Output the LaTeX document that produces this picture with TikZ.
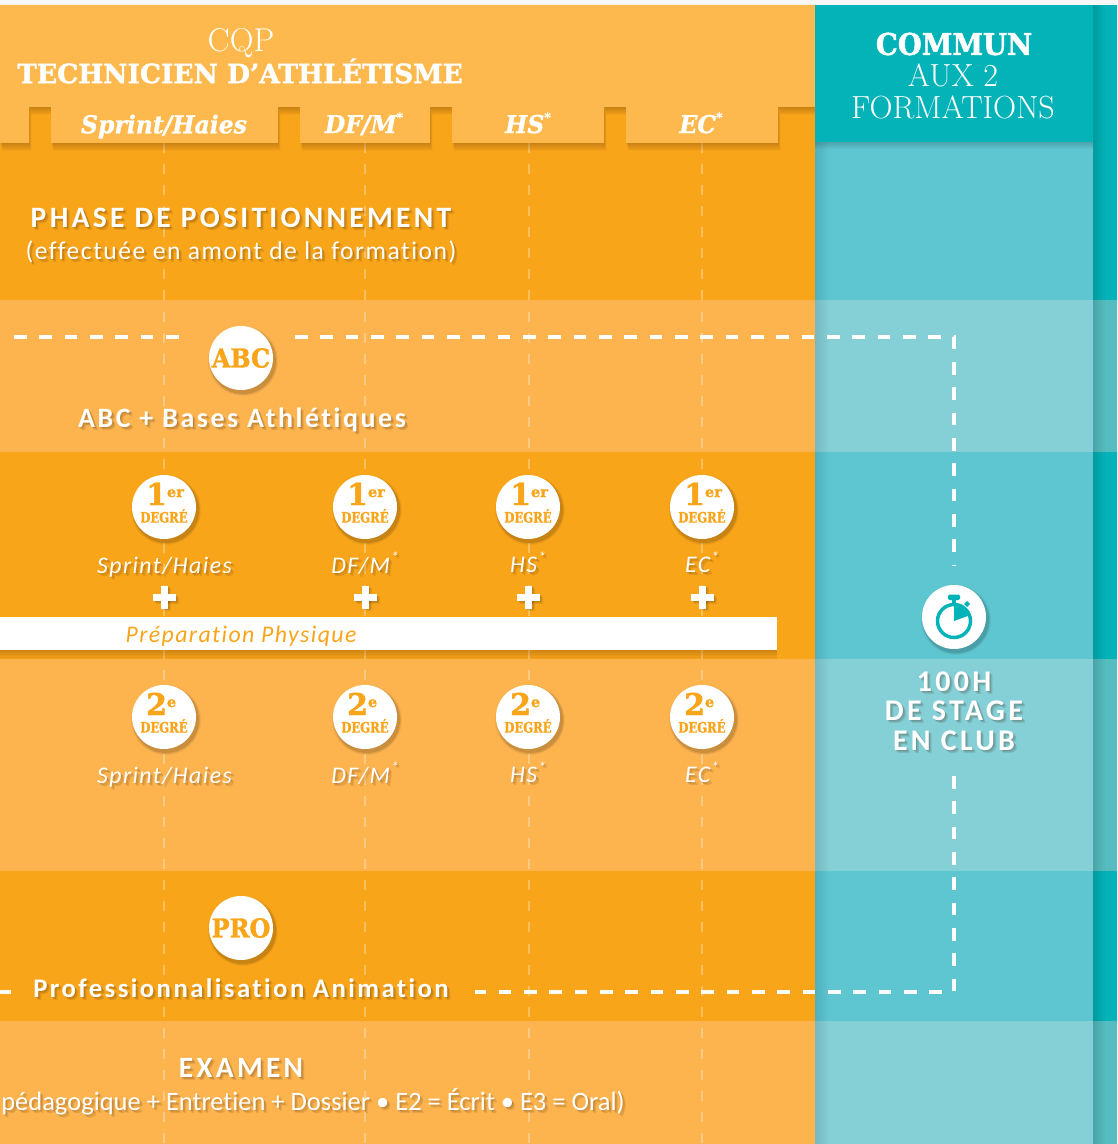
\documentclass[tikz,border=0pt]{standalone}
\usepackage{fontspec}
\usetikzlibrary{calc}
\setmainfont{Carlito}
\newfontfamily\slab{DejaVu Serif Bold}[FakeBold=1.5]
\newfontfamily\slabc{DejaVu Serif Bold}[FakeStretch=.92,FakeBold=1.5]
\newfontfamily\slabx{DejaVu Serif Bold}[FakeStretch=.8,FakeBold=1]
\newfontfamily\slabi{DejaVu Serif Bold Italic}[FakeStretch=.96,FakeBold=1]
\newfontfamily\thinf{Latin Modern Roman}
\newfontfamily\gill{Carlito}[LetterSpace=6,Ligatures=NoCommon]
\newfontfamily\gillb{Carlito}[LetterSpace=9,Ligatures=NoCommon]
\newfontfamily\gillw{Carlito}[LetterSpace=11,Ligatures=NoCommon]
\newfontfamily\gilln{Carlito}[Ligatures=NoCommon]
\definecolor{odark}{HTML}{F9A51A}
\definecolor{olight}{HTML}{FDB44F}
\definecolor{ohead}{HTML}{FDB94D}
\definecolor{tstrong}{HTML}{04B3B7}
\definecolor{tdark}{HTML}{5EC6D1}
\definecolor{tlight}{HTML}{85CFD6}
\definecolor{tside}{HTML}{55BDBF}
\newcommand{\szpx}[1]{\fontsize{\dimexpr #1pt*3/4\relax}{\dimexpr #1pt*9/10\relax}\selectfont}
\newcommand{\st}{\kern.8pt\smash{\raisebox{.45em}{\szpx{15}*}}\vphantom{Sp}}
\tikzset{
  x=0.75pt,y=-0.75pt,
  lab/.style={inner sep=0,outer sep=0,text=white,align=center},
  labshadow/.style={inner sep=0,outer sep=0,text=black!80!orange,text opacity=.11,align=center},
  badge/.style={circle,fill=white,inner sep=0,minimum size=48pt},
  guide/.style={white,opacity=.3,line width=1.9pt,dash pattern=on 7.5pt off 8.3pt},
  route/.style={white,line width=2.5pt,dash pattern=on 9.4pt off 9.6pt},
  badgetxt/.style={inner sep=0,outer sep=0,text=odark},
}
\newcommand{\shlabel}[4]{%
  \foreach \d in {1,2,3}{\node[labshadow,#3,shift={(\d,\d)}] (#1s\d) at (#2) {#4};}
  \node[lab,#3] (#1) at (#2) {#4};}
\newcommand{\shcircle}[2]{%
  \foreach \d/\o in {6/.04,4/.07,2/.10}{\fill[black,opacity=\o] ($(#2)+(2,3)$) circle (32+\d/2);}
  \node[badge] (#1) at (#2) {};}
\newcommand{\degreeBadge}[5]{% name x num sup y
  \shcircle{#1}{#2,#5}
  \node[badgetxt,anchor=base east] (#1n) at (#2+3,#5-2) {\slab\szpx{30}#3};
  \node[badgetxt,anchor=base west] (#1e) at (#2+3,#5-10) {\slab\szpx{14.5}#4};
  \node[badgetxt,anchor=center] (#1d) at (#2,#5+9) {\slabx\szpx{14.5}DEGRÉ};}
\newcommand{\plussign}[1]{%
  \foreach \d in {1,2,3}{\fill[black,opacity=.08] ($(#1,594)+(-11.5+\d,\d)$) rectangle ++(23,7); \fill[black,opacity=.08] ($(#1,585)+(-3.5+\d,\d)$) rectangle ++(7,23);}
  \fill[white] (#1-11.5,594) rectangle (#1+11.5,601);
  \fill[white] (#1-3.5,585.5) rectangle (#1+3.5,608.5);}
\begin{document}
\begin{tikzpicture}
\useasboundingbox (0,0) rectangle (1117,1144);
\clip (0,0) rectangle (1117,1144);
\fill[white!97!black] (0,0) rectangle (1117,5);
% rows
\fill[odark] (0,5) rectangle (815,300);
\fill[olight] (0,300) rectangle (815,452);
\fill[odark] (0,452) rectangle (815,659);
\fill[olight] (0,659) rectangle (815,871);
\fill[odark] (0,871) rectangle (815,1021);
\fill[olight] (0,1021) rectangle (815,1144);
\fill[tdark] (815,142) rectangle (1093,300);
\fill[tlight] (815,300) rectangle (1093,452);
\fill[tdark] (815,452) rectangle (1093,659);
\fill[tlight] (815,659) rectangle (1093,871);
\fill[tdark] (815,871) rectangle (1093,1021);
\fill[tlight] (815,1021) rectangle (1093,1144);
\fill[tstrong] (1093,5) rectangle (1117,300);
\fill[tside] (1093,300) rectangle (1117,452);
\fill[tstrong] (1093,452) rectangle (1117,659);
\fill[tside] (1093,659) rectangle (1117,871);
\fill[tstrong] (1093,871) rectangle (1117,1021);
\fill[tside] (1093,1021) rectangle (1117,1144);
% side shadows
\foreach \d in {2,4,...,14}{\fill[black,opacity=.012] (815,142) rectangle (815+\d,1144);}
\foreach \d in {2,4,...,12}{\fill[black,opacity=.018] (1093,5) rectangle (1093+\d,1144);}
% guide lines
\foreach \n/\gx in {a/164,b/365,c/529,d/702}{
  \coordinate (g\n t) at (\gx,143);
  \coordinate (g\n b) at (\gx,1144);
  \draw[guide] (g\n t) -- (g\n b);}
% header shape
\def\hdr{(0,5) -- (815,5) -- (815,107) -- (778,107) -- (778,143) -- (626,143) -- (626,107) -- (604,107) -- (604,143) -- (452,143) -- (452,107) -- (430,107) -- (430,143) -- (300,143) -- (300,107) -- (278,107) -- (278,143) -- (51,143) -- (51,107) -- (29,107) -- (29,143) -- (0,143) -- cycle}
\begin{scope}
\clip (0,5) rectangle (815,160);
\foreach \d in {1,...,8}{\fill[black!70!orange,opacity=.035,shift={(\d*.3,\d)}] \hdr;}
\end{scope}
\fill[ohead] \hdr;
\foreach \d in {1,...,7}{\fill[black,opacity=.025] (815,142) rectangle (1093,142+\d);}
\fill[tstrong] (815,5) rectangle (1093,142);
% header text
\node[lab] (cqp) at (241,43) {\thinf\szpx{33}CQP};
\node[lab] (tech) at (240,71) {\slab\szpx{26.5}TECHNICIEN D’ATHLÉTISME};
\newcommand{\tst}{\smash{\raisebox{.45em}{\szpx{13}*}}\vphantom{Sp}}
\node[lab] (t1) at (164,126.5) {\slabi\szpx{24.5}Sprint/Haies};
\node[lab] (t2) at (364,126.5) {\slabi\szpx{24.5}DF/M\tst};
\node[lab] (t3) at (528,126.5) {\slabi\szpx{24.5}HS\tst};
\node[lab] (t4) at (701,126.5) {\slabi\szpx{24.5}EC\tst};
\node[lab] (com) at (954,44) {\slabc\szpx{30}COMMUN};
\node[lab] (aux) at (953,75) {\thinf\szpx{32}AUX 2};
\node[lab] (form) at (953,107) {\thinf\szpx{32}FORMATIONS};
% route
\coordinate (r1) at (14,337);
\coordinate (r2) at (190,337);
\coordinate (r3) at (295,337);
\coordinate (r4) at (954,337);
\coordinate (r5) at (954,565);
\coordinate (r6) at (954,776);
\coordinate (r7) at (954,992);
\coordinate (r8) at (475,992);
\coordinate (r9) at (0,992);
\coordinate (r10) at (11,992);
\draw[route] (r1) -- (r2);
\draw[route] (r3) -- (r4) -- (r5);
\draw[route] (r6) -- (r7) -- (r8);
\draw[route] (r9) -- (r10);
% phase
\shlabel{ph}{241,218}{}{\gillw\bfseries\szpx{29.6}PHASE DE POSITIONNEMENT}
\shlabel{phb}{241,252}{}{\gill\szpx{25.6}(effectuée en amont de la formation)}
% ABC
\shcircle{abc}{241,358}
\node[badgetxt] (abct) at (241,358) {\slabc\szpx{26}ABC};
\shlabel{abcl}{242,420}{}{\gillb\bfseries\szpx{28}ABC + Bases Athlétiques}
% degrees
\degreeBadge{da}{164}{1}{er}{507}
\degreeBadge{db}{365}{1}{er}{507}
\degreeBadge{dc}{528}{1}{er}{507}
\degreeBadge{dd}{702}{1}{er}{507}
\shlabel{sa}{164.5,567}{}{\gill\itshape\szpx{23.8}Sprint/Haies}
\shlabel{sb}{365,567}{}{\gill\itshape\szpx{23.8}DF/M\st}
\shlabel{sc}{528,567}{}{\gill\itshape\szpx{23.8}HS\st}
\shlabel{sd}{702,567}{}{\gill\itshape\szpx{23.8}EC\st}
\plussign{164}\plussign{365}\plussign{528}\plussign{702}
% bar
\foreach \d in {1,...,6}{\fill[black!70!orange,opacity=.04] (0,650) rectangle (777,650+\d*1.5);}
\fill[white] (0,617) rectangle (777,650);
\node[badgetxt] (prep) at (241,636) {\gill\itshape\szpx{23.8}Préparation Physique};
% second degree
\degreeBadge{ea}{164}{2}{e}{717}
\degreeBadge{eb}{365}{2}{e}{717}
\degreeBadge{ec}{528}{2}{e}{717}
\degreeBadge{ed}{702}{2}{e}{717}
\shlabel{ua}{164.5,777}{}{\gill\itshape\szpx{23.8}Sprint/Haies}
\shlabel{ub}{365,777}{}{\gill\itshape\szpx{23.8}DF/M\st}
\shlabel{uc}{528,777}{}{\gill\itshape\szpx{23.8}HS\st}
\shlabel{ud}{702,777}{}{\gill\itshape\szpx{23.8}EC\st}
% pro
\shcircle{pro}{241,928}
\node[badgetxt] (prot) at (241,928) {\slabc\szpx{26}PRO};
\shlabel{prol}{241,988}{}{\gillb\bfseries\szpx{26.8}Professionnalisation Animation}
% exam
\shlabel{ex}{241,1068}{}{\gillw\bfseries\szpx{29.5}EXAMEN}
\shlabel{exb}{313,1102}{}{\gilln\szpx{26.5}pédagogique + Entretien + Dossier • E2 = Écrit • E3 = Oral)}
% stopwatch
\shcircle{watch}{954,617}
\begin{scope}[shift={(954,621)}]
\draw[tstrong,line width=2.6pt] (0,0) circle (16.5);
\fill[tstrong] (0,0) -- (0,-15) arc[start angle=-90,end angle=-20,radius=15] -- cycle;
\fill[tstrong] (-1.7,-22) rectangle (1.7,-17);
\fill[tstrong,rounded corners=1pt] (-6,-26.5) rectangle (6,-21);
\fill[tstrong] (13,-20) -- (16,-17) -- (13,-14) -- (10,-17) -- cycle;
\end{scope}
\shlabel{ha}{954,682}{}{\gillw\bfseries\szpx{30}100H}
\shlabel{hb}{954,711}{}{\gillw\bfseries\szpx{30}DE STAGE}
\shlabel{hc}{954,741}{}{\gillw\bfseries\szpx{30}EN CLUB}
\end{tikzpicture}
\end{document}
